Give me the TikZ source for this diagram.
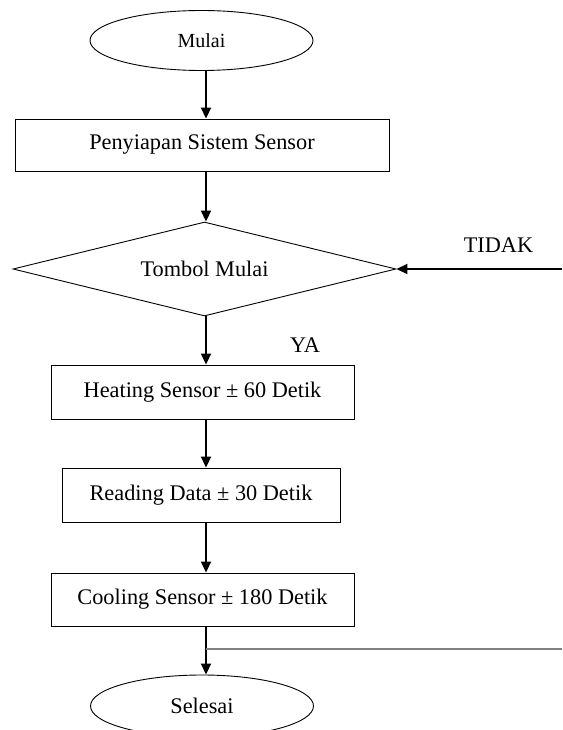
\documentclass[tikz,border=0pt]{standalone}
\usepackage{fontspec}
\setmainfont{Liberation Serif}
\usetikzlibrary{shapes.geometric,arrows.meta}
\begin{document}
\begin{tikzpicture}[x=1pt,y=-1pt,
  txt/.style={font=\fontsize{22.3}{26}\selectfont},
  box/.style={draw,line width=0.9pt,rectangle,inner sep=0pt,txt},
  term/.style={draw,line width=0.9pt,ellipse,inner sep=0pt,minimum width=223pt,minimum height=60pt},
  dec/.style={draw,line width=0.9pt,diamond,inner sep=0pt,aspect=4,minimum width=383pt,minimum height=94pt,txt},
  flow/.style={line width=1.8pt,-{Triangle[length=11pt,width=10pt]}},
  lbl/.style={txt,inner sep=0pt}]
\useasboundingbox (0,0) rectangle (562,730);
\node[term,font=\fontsize{20}{24}\selectfont] (mulai) at (201.5,40.5) {Mulai};
\node[box,minimum width=374pt,minimum height=52pt] (siap) at (202,145) {Penyiapan Sistem Sensor};
\node[dec] (tombol) at (204.5,269) {Tombol Mulai};
\node[box,minimum width=303pt,minimum height=54pt] (heat) at (202.5,392) {Heating Sensor ± 60 Detik};
\node[box,minimum width=278pt,minimum height=54pt] (read) at (201,495) {Reading Data ± 30 Detik};
\node[box,minimum width=303pt,minimum height=53pt] (cool) at (202.5,599.5) {Cooling Sensor ± 180 Detik};
\node[term,minimum height=62pt,txt] (selesai) at (202,706) {Selesai};
\node[lbl] (tidak) at (498.5,245) {TIDAK};
\node[lbl] (ya) at (305,345) {YA};
\coordinate (tidakin) at (562,269);
\coordinate (cabang) at (206,649);
\coordinate (cabangend) at (562,649);
\draw[flow] (mulai.south -| 206,0) -- (siap.north -| 206,0);
\draw[flow] (siap.south -| 206,0) -- (tombol.north -| 206,0);
\draw[flow] (tombol.south -| 206,0) -- (heat.north -| 206,0);
\draw[flow] (heat.south -| 206,0) -- (read.north -| 206,0);
\draw[flow] (read.south -| 206,0) -- (cool.north -| 206,0);
\draw[flow] (cool.south -| 206,0) -- (selesai.north -| 206,0);
\draw[flow] (tidakin) -- (tombol.east);
\draw[line width=1.6pt,gray] (cabang) -- (cabangend);
\end{tikzpicture}
\end{document}
